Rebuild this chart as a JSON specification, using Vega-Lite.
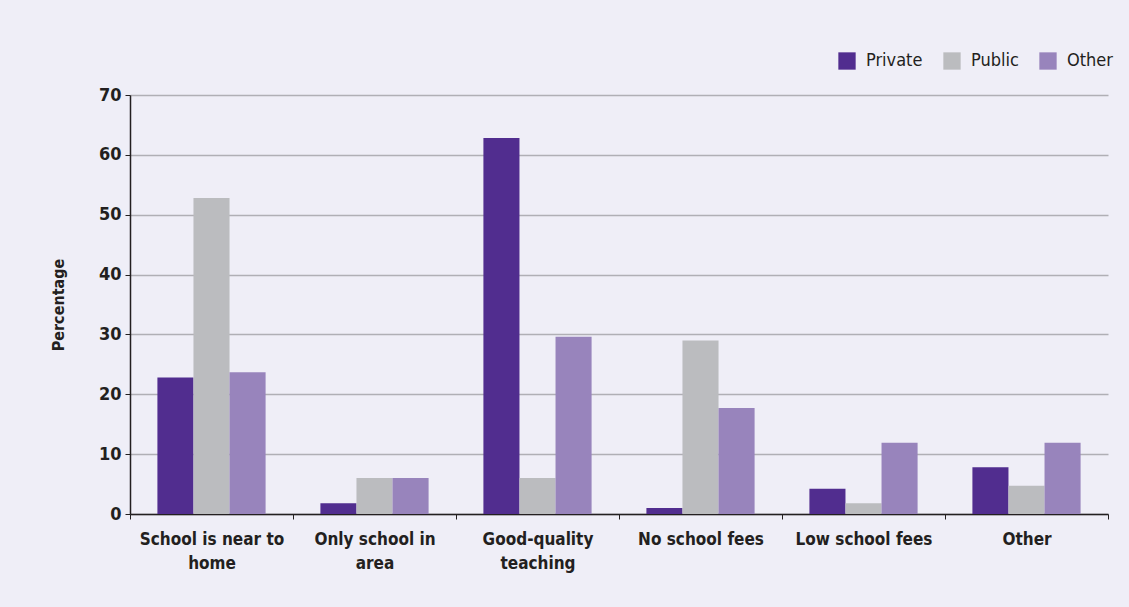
{
  "$schema": "https://vega.github.io/schema/vega-lite/v6.json",
  "autosize": "none",
  "width": 978,
  "height": 419,
  "padding": {"left": 130, "top": 95, "right": 21, "bottom": 93},
  "background": "#efeef7",
  "config": {
    "view": {"stroke": null},
    "font": "Liberation Sans Narrow, DejaVu Sans Condensed, Roboto, sans-serif"
  },
  "data": {
    "values": [
      {"reason": "School is near to home", "type": "Private", "pct": 22.8},
      {"reason": "School is near to home", "type": "Public", "pct": 52.8},
      {"reason": "School is near to home", "type": "Other", "pct": 23.7},
      {"reason": "Only school in area", "type": "Private", "pct": 1.8},
      {"reason": "Only school in area", "type": "Public", "pct": 6},
      {"reason": "Only school in area", "type": "Other", "pct": 6},
      {"reason": "Good-quality teaching", "type": "Private", "pct": 62.8},
      {"reason": "Good-quality teaching", "type": "Public", "pct": 6},
      {"reason": "Good-quality teaching", "type": "Other", "pct": 29.6},
      {"reason": "No school fees", "type": "Private", "pct": 1},
      {"reason": "No school fees", "type": "Public", "pct": 29},
      {"reason": "No school fees", "type": "Other", "pct": 17.7},
      {"reason": "Low school fees", "type": "Private", "pct": 4.2},
      {"reason": "Low school fees", "type": "Public", "pct": 1.8},
      {"reason": "Low school fees", "type": "Other", "pct": 11.9},
      {"reason": "Other", "type": "Private", "pct": 7.8},
      {"reason": "Other", "type": "Public", "pct": 4.7},
      {"reason": "Other", "type": "Other", "pct": 11.9}
    ]
  },
  "mark": {"type": "bar"},
  "encoding": {
    "x": {
      "field": "reason",
      "type": "nominal",
      "sort": null,
      "scale": {"paddingInner": 0, "paddingOuter": 0},
      "axis": {
        "title": null,
        "labelAngle": 0,
        "tickBand": "extent",
        "domainColor": "#231f20",
        "domainWidth": 1.5,
        "tickColor": "#231f20",
        "tickSize": 5,
        "labelFontSize": 17,
        "labelFontWeight": "bold",
        "labelColor": "#231f20",
        "labelPadding": 12,
        "labelLineHeight": 24,
        "labelExpr": "datum.value == 'School is near to home' ? ['School is near to', 'home'] : datum.value == 'Only school in area' ? ['Only school in', 'area'] : datum.value == 'Good-quality teaching' ? ['Good-quality', 'teaching'] : datum.value"
      }
    },
    "xOffset": {
      "field": "type",
      "type": "nominal",
      "sort": ["Private", "Public", "Other"],
      "scale": {"paddingInner": 0, "paddingOuter": 0.76}
    },
    "y": {
      "field": "pct",
      "type": "quantitative",
      "scale": {"domain": [0, 70]},
      "axis": {
        "title": "Percentage",
        "titleFontSize": 16,
        "titleFontWeight": "bold",
        "titleColor": "#231f20",
        "titlePadding": 32,
        "values": [0, 10, 20, 30, 40, 50, 60, 70],
        "labelFontSize": 18,
        "labelFontWeight": "bold",
        "labelColor": "#231f20",
        "labelPadding": 4,
        "tickSize": 5,
        "tickColor": "#231f20",
        "domainColor": "#231f20",
        "domainWidth": 1.5,
        "gridColor": "#b0afb5",
        "gridWidth": 1.3
      }
    },
    "color": {
      "field": "type",
      "type": "nominal",
      "sort": ["Private", "Public", "Other"],
      "scale": {"domain": ["Private", "Public", "Other"], "range": ["#512d8f", "#bbbcbf", "#9884bc"]},
      "legend": {
        "title": null,
        "orient": "none",
        "direction": "horizontal",
        "legendX": 708,
        "legendY": -43,
        "symbolType": "square",
        "symbolSize": 300,
        "symbolStrokeWidth": 0,
        "labelFontSize": 18,
        "labelColor": "#231f20",
        "columnPadding": 20,
        "labelOffset": 10
      }
    }
  }
}
